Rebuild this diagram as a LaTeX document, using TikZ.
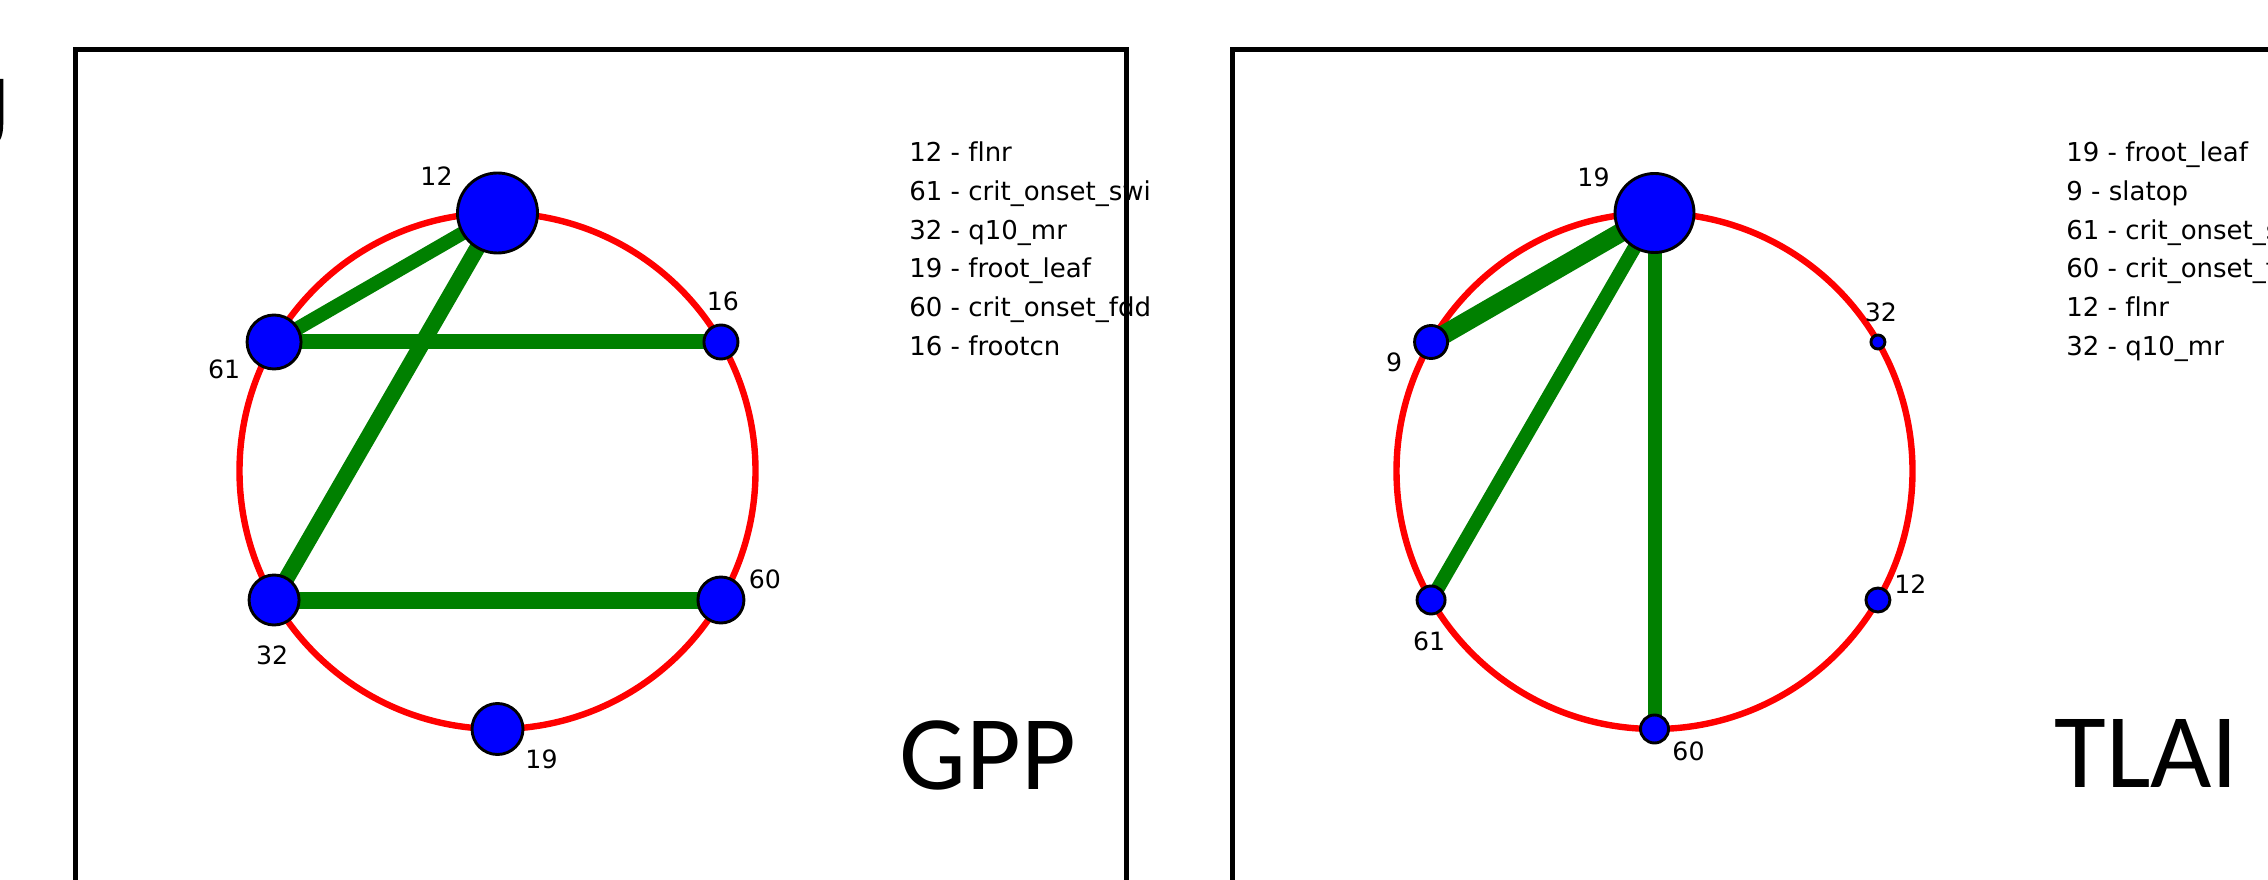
\documentclass[tikz,border=0pt]{standalone}
\usepackage{fontspec}
\setmainfont{DejaVu Sans}[Ligatures=NoCommon]
\newfontfamily\panelfont{Carlito}
\usetikzlibrary{calc}
\pgfdeclarelayer{background}
\pgfsetlayers{background,main}
\definecolor{nxgreen}{HTML}{008000}

\tikzset{
  vert/.style={circle, draw=black, line width=1.45pt, fill=blue, inner sep=0pt},
  ring/.style={draw=red, line width=3.2pt},
  link/.style={draw=nxgreen},
  numlab/.style={font=\fontsize{12.6}{14}\selectfont, inner sep=0pt},
  keytext/.style={font=\fontsize{13}{15}\selectfont, anchor=base west, inner sep=0pt},
  paneltitle/.style={font=\panelfont\fontsize{53}{60}\selectfont, anchor=base west, inner sep=0pt},
  panelframe/.style={draw=black, line width=2.5pt},
}

\begin{document}
\begin{tikzpicture}[x=0.5pt,y=0.5pt]
  \useasboundingbox (0,0) rectangle (2268,879);

  % ring centres
  \coordinate (ca) at (497.5,408);
  \coordinate (cb) at (1654.5,408);

  % === left panel: GPP ===
  \foreach \n/\a/\d/\lx/\ly in {12/90/80/-61/37, 61/150/54/-50/-27, 32/210/50/-2/-55,
                                19/270/51/44/-30, 60/330/46/44/21, 16/30/34/2/41}{
    \node[vert, minimum size=\d*0.5pt] (a\n) at ($(ca)+(\a:258)$) {};
    \node[numlab] (la\n) at ($(a\n)+(\lx,\ly)$) {\n};
  }

  % === right panel: TLAI ===
  \foreach \n/\a/\d/\lx/\ly in {19/90/79/-61/36, 9/150/33/-37/-20, 61/210/28/-2/-41.5,
                                60/270/28/34/-22, 12/330/24/32.5/15.6, 32/30/14/3/30}{
    \node[vert, minimum size=\d*0.5pt] (b\n) at ($(cb)+(\a:258)$) {};
    \node[numlab] (lb\n) at ($(b\n)+(\lx,\ly)$) {\n};
  }

  % rings and links go under the vertices
  \begin{pgfonlayer}{background}
    \fill[white] (0,0) rectangle (2268,879);
    \draw[ring] (ca) circle (258);
    \draw[ring] (cb) circle (258);
    \draw[link, line width=7pt]   (a12.center) -- (a61.center);
    \draw[link, line width=8pt]   (a12.center) -- (a32.center);
    \draw[link, line width=7.5pt] (a61.center) -- (a16.center);
    \draw[link, line width=8.5pt] (a32.center) -- (a60.center);
    \draw[link, line width=9.5pt] (b19.center) -- (b9.center);
    \draw[link, line width=7pt]   (b19.center) -- (b61.center);
    \draw[link, line width=7pt]   (b19.center) -- (b60.center);
  \end{pgfonlayer}

  % key lists
  \foreach \t [count=\i] in {12 - flnr, 61 - crit\_onset\_swi, 32 - q10\_mr,
                             19 - froot\_leaf, 60 - crit\_onset\_fdd, 16 - frootcn}
    \node[keytext] (ka\i) at (909, 756-38.7*\i) {\t};
  \foreach \t [count=\i] in {19 - froot\_leaf, 9 - slatop, 61 - crit\_onset\_swi,
                             60 - crit\_onset\_fdd, 12 - flnr, 32 - q10\_mr}
    \node[keytext] (kb\i) at (2066, 756-38.7*\i) {\t};

  % panel titles
  \node[paneltitle] (ta) at (899.5,89.7) {GPP};
  \node[paneltitle] (tb) at (2054,91.7) {TLAI};

  % frames (cut by the page edge)
  \draw[panelframe] (75,-30) rectangle (1126.8,829.8);
  \draw[panelframe] (1232.3,-30) rectangle (2330,829.8);

  % cut-off glyph at the left edge
  \fill (-8,800) -- (3.3,800) -- (3.3,757) .. controls (3.3,748) and (2,742) .. (0,739) -- (-8,739) -- cycle;
\end{tikzpicture}
\end{document}
